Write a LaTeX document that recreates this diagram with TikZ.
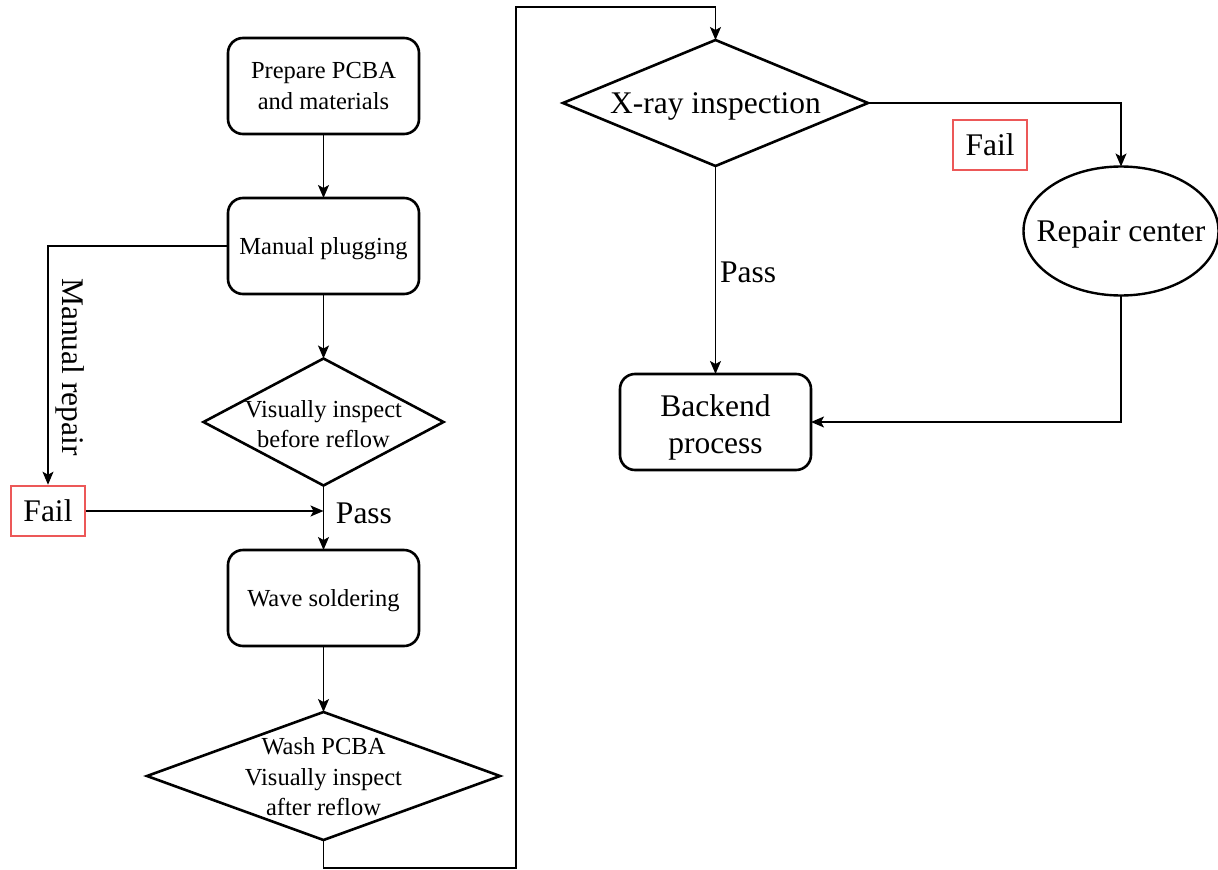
\documentclass[tikz,border=0pt]{standalone}
\usepackage{fontspec}
\setmainfont{LiberationSerif}[Extension=.ttf,UprightFont=*-Regular,BoldFont=*-Bold,ItalicFont=*-Italic]
\usetikzlibrary{shapes.geometric,arrows.meta}
\definecolor{failred}{RGB}{236,88,88}
\begin{document}
\begin{tikzpicture}[x=1pt,y=-1pt,
  small/.style={font=\fontsize{24.5}{30.5}\selectfont},
  big/.style={font=\fontsize{31.5}{37}\selectfont},
  proc/.style={draw, line width=2.6pt, rounded corners=15pt, minimum width=191pt, minimum height=96pt, align=center, inner sep=0pt, outer sep=0pt},
  dia/.style={draw, diamond, line width=2.6pt, inner sep=0pt, outer sep=0pt},
  failbox/.style={draw=failred, line width=2.6pt, fill=white, minimum width=74pt, minimum height=50pt, inner sep=0pt, big},
  conn/.style={line width=1.3pt, -{Stealth[length=13pt,width=11pt,inset=3pt]}},
  plain/.style={line width=1.3pt}
]
\useasboundingbox (0,0) rectangle (1218,870);

% left column
\node[proc, small] (prep) at (323.5,86) {Prepare PCBA\\and materials};
\node[proc, label={[small, yshift=-3pt]center:Manual plugging}] (plug) at (323.5,246) {};
\node[dia, minimum width=240pt, minimum height=127pt,
  label={[small, align=center, yshift=-2pt]center:Visually inspect\\before reflow}] (d1) at (323.5,422) {};
\node[failbox] (fail1) at (48,511) {Fail};
\node[proc, label={[small, yshift=-3pt]center:Wave soldering}] (wave) at (323.5,598) {};
\node[dia, minimum width=353pt, minimum height=128pt,
  label={[small, align=center, yshift=-1pt]center:Wash PCBA\\Visually inspect\\after reflow}] (d2) at (323.5,776) {};

\node[big, rotate=-90] (mrep) at (70,367) {Manual repair};
\node[big] (pass1) at (364,513) {Pass};

% right column
\node[dia, minimum width=305pt, minimum height=126pt,
  label={[big, yshift=-3pt]center:X-ray inspection}] (xray) at (715.5,103) {};
\node[draw, ellipse, line width=2.4pt, minimum width=195pt, minimum height=129pt, inner sep=0pt, outer sep=0pt,
  label={[big, yshift=-3pt]center:Repair center}] (rep) at (1121,231) {};
\node[proc, label={[big, align=center, yshift=-5pt]center:Backend\\process}] (back) at (715.5,422) {};
\node[failbox] (fail2) at (990,145) {Fail};
\node[big] (pass2) at (748,272) {Pass};

\coordinate (pj) at (323.5,511);
\coordinate (c1) at (48,246);
\coordinate (b1) at (323.5,868);
\coordinate (b2) at (516,868);
\coordinate (t1) at (516,7);
\coordinate (t2) at (715.5,7);
\coordinate (r1) at (1121,103);
\coordinate (r2) at (1121,422);

% connectors
\draw[conn] (prep) -- (plug);
\draw[conn] (plug) -- (d1.north);
\draw[conn] (d1.south) -- (wave);
\draw[conn] (wave) -- (d2.north);
\draw[conn] (plug.west) -- (c1) -- (fail1.north);
\draw[conn] (fail1.east) -- (pj);
\draw[conn] (d2.south) -- (b1) -- (b2) -- (t1) -- (t2) -- (xray.north);
\draw[conn] (xray.east) -- (r1) -- (rep.north);
\draw[conn] (xray.south) -- (back.north);
\draw[conn] (rep.south) -- (r2) -- (back.east);
\end{tikzpicture}
\end{document}
